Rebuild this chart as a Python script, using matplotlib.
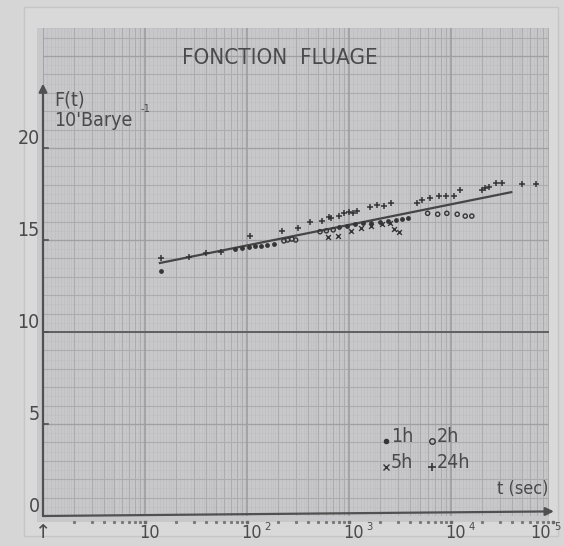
import numpy as np
import matplotlib
matplotlib.use("Agg")
import matplotlib.pyplot as plt
from matplotlib.patches import Rectangle
from matplotlib.lines import Line2D

# ---------------- data ----------------
t_1h = [14.5, 76, 89, 105, 120, 138, 158, 182, 800, 955, 1150, 1380, 1660, 2000, 2400, 2880, 3300, 3800]
F_1h = [13.3, 14.5, 14.55, 14.6, 14.65, 14.7, 14.75, 14.8, 15.7, 15.75, 15.85, 15.9, 15.95, 16.0, 16.05, 16.1, 16.15, 16.2]

t_2h = [230, 250, 275, 300, 520, 600, 700, 5900, 7400, 9100, 11500, 13800, 16000]
F_2h = [14.95, 15.0, 15.05, 15.0, 15.45, 15.5, 15.55, 16.45, 16.4, 16.45, 16.4, 16.3, 16.3]

t_5h = [620, 780, 1050, 1300, 1650, 2100, 2500, 2750, 3100]
F_5h = [15.16, 15.2, 15.5, 15.65, 15.75, 15.85, 15.95, 15.6, 15.45]

t_24h = [14.5, 27, 40, 55, 108, 220, 316, 410, 540, 630, 660, 800, 900, 1000, 1100, 1200,
         1600, 1900, 2200, 2600, 4600, 5200, 6200, 7600, 8900, 10700, 12300, 20000, 21400,
         23400, 27500, 31600, 50000, 68000]
F_24h = [14.0, 14.1, 14.3, 14.35, 15.2, 15.5, 15.65, 16.0, 16.03, 16.25, 16.2, 16.3, 16.45, 16.5,
         16.45, 16.55, 16.8, 16.9, 16.85, 17.0, 17.0, 17.2, 17.3, 17.4, 17.4, 17.4, 17.7, 17.7,
         17.8, 17.9, 18.1, 18.1, 18.05, 18.05]

fit_t = [14, 39000]
fit_F = [13.75, 17.6]

y_ticks = [0, 5, 10, 15, 20]
y_labels = ["0", "5", "10", "15", "20"]
x_ticks = [10, 100, 1000, 10000, 100000]
x_labels = ["10", "10", "10", "10", "10"]
x_exps = ["", "2", "3", "4", "5"]

title = "FONCTION  FLUAGE"
legend_rows = [[".1h", "o2h"], ["x5h", "+24h"]]

# ---------------- styling ----------------
W, H = 564, 546
ink = "#4a4a4a"
paper = "#c8c8cb"
outer = "#d6d6d6"
FONT = dict(family=["Liberation Sans Narrow", "DejaVu Sans"], stretch="condensed")

fig = plt.figure(figsize=(W / 100, H / 100), dpi=100, facecolor=outer)

def fx(px):
    return px / W

def fy(py):
    return 1 - py / H

# faint outer frame and paper sheet
fig.patches.append(Rectangle((fx(24), fy(536)), fx(558 - 24), (536 - 7) / H,
                             transform=fig.transFigure, facecolor="#d9d9d9",
                             edgecolor="#c6c6c6", lw=1.0, zorder=-3))
fig.patches.append(Rectangle((fx(37), fy(522)), fx(549 - 37), (522 - 28) / H,
                             transform=fig.transFigure, facecolor=paper,
                             edgecolor="none", zorder=-2))

x0 = 43
y0, y1 = 516, 28
ax = fig.add_axes([fx(x0), fy(y0), fx(549 - x0), (y0 - y1) / H])
ax.set_facecolor(paper)
ax.set_xscale("log")
ax.set_xlim(1, 10 ** ((549 - x0) / 102.0))
ax.set_ylim(0, (y0 - y1) / 18.4)
for s in ax.spines.values():
    s.set_visible(False)
ax.set_xticks([])
ax.set_yticks([])
ax.minorticks_off()

# graph-paper grid (style only)
ymax = ax.get_ylim()[1]
fine = list(np.arange(1.1, 2.0, 0.1)) + list(np.arange(2.2, 5.0, 0.2)) + list(np.arange(5.5, 10, 0.5))
for d in range(5):
    base = 10 ** d
    for m in fine:
        ax.axvline(m * base, color="#bebec1", lw=0.5, zorder=1)
    for m in range(2, 10):
        ax.axvline(m * base, color="#acacaf", lw=0.8, zorder=1.1)
    ax.axvline(base, color="#9a9a9d", lw=1.1, zorder=1.2)
for v in np.arange(0.5, ymax, 1):
    ax.axhline(v, color="#c0c0c3", lw=0.5, zorder=1)
for v in np.arange(1, ymax, 1):
    ax.axhline(v, color="#acacaf", lw=0.8, zorder=1.1)
for v in (5, 15, 20, 25):
    ax.axhline(v, color="#a0a0a3", lw=0.9, zorder=1.2)
ax.axhline(10, color="#606060", lw=1.4, zorder=2)

# axes drawn as arrows
ax.annotate("", xy=(1, 23.5), xytext=(1, 0), xycoords="data",
            arrowprops=dict(arrowstyle="-|>", color="#505050", lw=1.6,
                            mutation_scale=12, shrinkA=0, shrinkB=0), zorder=5,
            annotation_clip=False)
ax.annotate("", xy=(1.02e5, 0.25), xytext=(1, 0), xycoords="data",
            arrowprops=dict(arrowstyle="-|>", color="#505050", lw=1.6,
                            mutation_scale=12, shrinkA=0, shrinkB=0), zorder=5,
            annotation_clip=False)

# y ticks and labels
for v, lab in zip(y_ticks, y_labels):
    ax.plot([1, 1.12], [v, v], color="#505050", lw=1.2, zorder=5, clip_on=False)
    ax.text(0.93, v, lab, ha="right", va="bottom", fontsize=14, color=ink,
            clip_on=False, **FONT)

# x tick dots below axis and labels
for d in range(5):
    for m in range(2, 10):
        ax.plot(m * 10 ** d, -0.35, marker="s", ms=1.2, color="#7a7a7a",
                clip_on=False, zorder=5)
for i, (v, lab, e) in enumerate(zip(x_ticks, x_labels, x_exps)):
    ax.plot(v, -0.35, marker="s", ms=2.0, color="#6a6a6a", clip_on=False, zorder=5)
    xc = v * (1.1 if i < 4 else 0.76)
    ax.text(xc, -0.45, lab, ha="center", va="top", fontsize=13, color=ink,
            clip_on=False, **FONT)
    if e:
        ax.text(xc * 1.34, -0.35, e, ha="left", va="top", fontsize=8, color=ink,
                clip_on=False, **FONT)
ax.text(1.0, -0.4, "\u2191", ha="center", va="top", fontsize=14, color=ink,
        clip_on=False, family="DejaVu Sans")

# axis titles
ax.text(1.3, 22.6, "F(t)", ha="left", va="center", fontsize=14, color=ink, **FONT)
ax.text(1.3, 21.5, "10'Barye", ha="left", va="center", fontsize=14, color=ink, **FONT)
ax.text(9.0, 22.1, "-1", ha="left", va="center", fontsize=8, color=ink, **FONT)
ax.text(9.0e4, 1.45, "t (sec)", ha="right", va="center", fontsize=13, color=ink,
        clip_on=False, **FONT)

# title
fig.text(fx(280), fy(58), title, ha="center", va="center", fontsize=16, color=ink, **FONT)

# data
mk = "#353535"
ax.plot(fit_t, fit_F, color="#454545", lw=1.6, zorder=6)
ax.scatter(t_1h, F_1h, marker="o", s=6, color=mk, zorder=7)
ax.scatter(t_2h, F_2h, marker="o", s=9, facecolors="none", edgecolors=mk, lw=1.0, zorder=7)
ax.scatter(t_5h, F_5h, marker="x", s=12, color=mk, lw=1.0, zorder=7)
ax.scatter(t_24h, F_24h, marker="+", s=20, color=mk, lw=1.1, zorder=7)

# legend (hand-written style)
lx = [386, 432]
ly = [436, 462]
mstyle = {".": dict(marker="o", ms=3, mfc=mk, mec=mk),
          "o": dict(marker="o", ms=4, mfc="none", mec=mk, mew=1.0),
          "x": dict(marker="x", ms=4, mec=mk, mew=1.0),
          "+": dict(marker="+", ms=6, mec=mk, mew=1.2)}
for r, row in enumerate(legend_rows):
    for c, item in enumerate(row):
        sym, txt = item[0], item[1:]
        fig.add_artist(Line2D([fx(lx[c])], [fy(ly[r] + 5)], linestyle="none",
                              transform=fig.transFigure, **mstyle[sym]))
        fig.text(fx(lx[c] + 5), fy(ly[r]), txt, ha="left", va="center", fontsize=14,
                 color=ink, **FONT)

fig.savefig("out.png", dpi=100, facecolor=outer)
